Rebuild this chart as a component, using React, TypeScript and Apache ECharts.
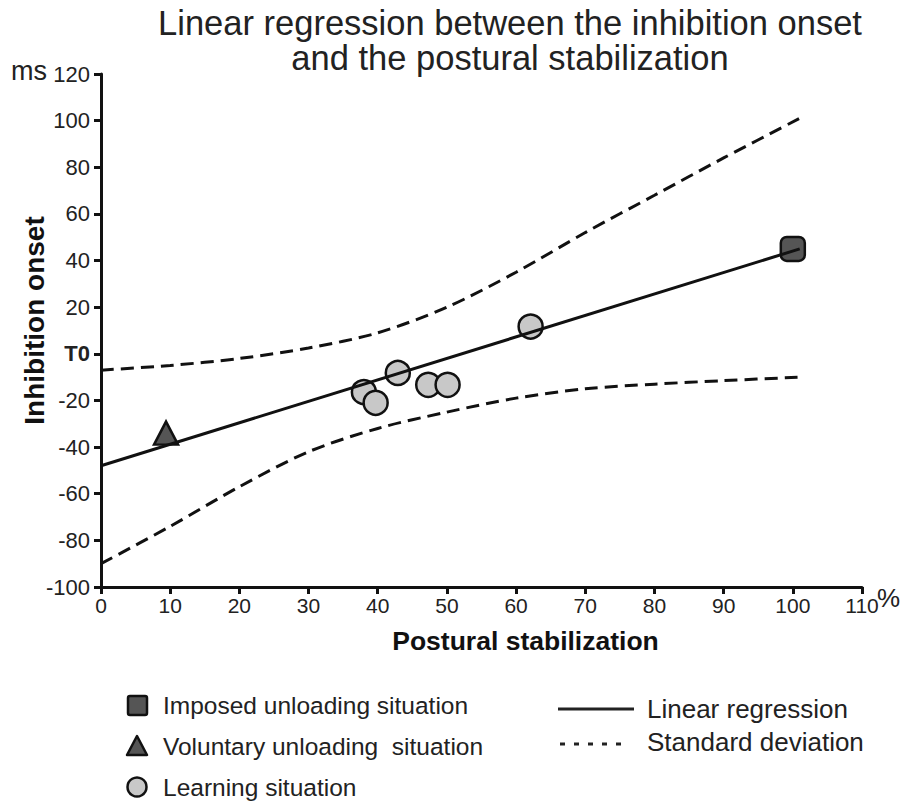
import React, { useEffect, useRef } from "react";
import * as echarts from "echarts";

// ---- data ----
const titleLines = ["Linear regression between the inhibition onset", "and the postural stabilization"];
const xName = "Postural stabilization";
const yName = "Inhibition onset";
const xUnit = "%";
const yUnit = "ms";

const imposedUnloading: number[][] = [[100, 45]];
const voluntaryUnloading: number[][] = [[9.4, -34]];
const learningSituation: number[][] = [
  [38, -16.4],
  [39.7, -21],
  [42.9, -8.2],
  [47.3, -13.3],
  [50.1, -13.3],
  [62.1, 11.7],
];
const linearRegression: number[][] = [
  [0, -48],
  [101, 45],
];
const sdUpper: number[][] = [
  [0, -7], [10, -5], [20, -2], [30, 2.5], [40, 9], [50, 20],
  [60, 35], [70, 52], [80, 68], [90, 84], [101, 101],
];
const sdLower: number[][] = [
  [0, -90], [10, -74], [20, -57], [30, -42], [40, -32], [50, -25],
  [60, -19], [70, -15], [80, -13], [90, -11.5], [101, -10],
];
const legendLeft = ["Imposed unloading situation", "Voluntary unloading  situation", "Learning situation"];
const legendRight = ["Linear regression", "Standard deviation"];

const FONT = "Liberation Sans";
const TXT = "#222";

export default function App() {
  const ref = useRef<HTMLDivElement>(null);
  useEffect(() => {
    if (!ref.current) return;
    const chart = echarts.init(ref.current, undefined, { renderer: "svg" });
    const option: any = {
      animation: false,
      backgroundColor: "#fff",
      textStyle: { fontFamily: FONT },
      title: {
        text: titleLines.join("\n"),
        left: 505,
        top: 0,
        textAlign: "center",
        textStyle: { fontFamily: FONT, fontSize: 34.5, fontWeight: "normal", color: TXT, lineHeight: 35 },
      },
      grid: { left: 101, right: 49, top: 74, bottom: 214, containLabel: false },
      xAxis: {
        type: "value",
        min: 0,
        max: 110,
        interval: 10,
        name: xName,
        nameLocation: "middle",
        nameGap: 40,
        nameMoveOverlap: false,
        nameTextStyle: { fontFamily: FONT, fontSize: 26.5, fontWeight: "bold", color: "#111", padding: [0, 0, 0, 88] },
        axisLine: { onZero: false, lineStyle: { color: "#111", width: 3 } },
        axisTick: { length: 7, lineStyle: { color: "#111", width: 3 } },
        axisLabel: { margin: 8, fontFamily: FONT, fontSize: 21, color: TXT },
        splitLine: { show: false },
      },
      yAxis: {
        type: "value",
        min: -100,
        max: 120,
        interval: 20,
        name: yName,
        nameLocation: "middle",
        nameGap: 53,
        nameMoveOverlap: false,
        nameRotate: 90,
        nameTextStyle: { fontFamily: FONT, fontSize: 28, fontWeight: "bold", color: "#111", padding: [0, 0, 0, 20] },
        axisLine: { onZero: false, lineStyle: { color: "#111", width: 3 } },
        axisTick: { length: 7, lineStyle: { color: "#111", width: 3 } },
        axisLabel: {
          margin: 11,
          fontFamily: FONT,
          fontSize: 22,
          color: TXT,
          formatter: (v: number) => (v === 0 ? "{b|T0}" : String(v)),
          rich: { b: { fontFamily: FONT, fontSize: 22, fontWeight: "bold", color: TXT } },
        },
        splitLine: { show: false },
      },
      series: [
        {
          name: legendLeft[2],
          type: "scatter",
          data: learningSituation,
          symbol: "circle",
          symbolSize: 24,
          itemStyle: { color: "#c8c8c8", borderColor: "#111", borderWidth: 2.5, opacity: 1 },
          z: 2,
        },
        {
          name: legendLeft[1],
          type: "scatter",
          data: voluntaryUnloading,
          symbol: "triangle",
          symbolSize: [24, 23],
          itemStyle: { color: "#555", borderColor: "#111", borderWidth: 2.5, opacity: 1 },
          z: 2,
        },
        {
          name: legendLeft[0],
          type: "scatter",
          data: imposedUnloading,
          symbol: "roundRect",
          symbolSize: 24,
          itemStyle: { color: "#555", borderColor: "#111", borderWidth: 2.5, opacity: 1 },
          z: 2,
        },
        {
          name: legendRight[0],
          type: "line",
          data: linearRegression,
          symbol: "none",
          lineStyle: { color: "#111", width: 3 },
          z: 3,
        },
        {
          name: legendRight[1],
          type: "line",
          data: sdUpper,
          symbol: "none",
          smooth: 0.3,
          lineStyle: { color: "#111", width: 3, type: [13, 7] },
          z: 3,
        },
        {
          name: legendRight[1] + " (lower)",
          type: "line",
          data: sdLower,
          symbol: "none",
          smooth: 0.3,
          lineStyle: { color: "#111", width: 3, type: [13, 7] },
          z: 3,
        },
      ],
      graphic: [
        { type: "text", left: 11, top: 57, style: { text: yUnit, fontFamily: FONT, fontSize: 27, fill: TXT } },
        { type: "text", left: 877, top: 585, style: { text: xUnit, fontFamily: FONT, fontSize: 26, fill: TXT } },
        // legend left
        { type: "rect", shape: { x: 128, y: 696, width: 19, height: 19, r: 2 }, style: { fill: "#555", stroke: "#111", lineWidth: 2.5 } },
        { type: "polygon", shape: { points: [[137, 736], [147, 755], [127, 755]] }, style: { fill: "#555", stroke: "#111", lineWidth: 2.5, lineJoin: "round" } },
        { type: "circle", shape: { cx: 137, cy: 787, r: 9.5 }, style: { fill: "#c8c8c8", stroke: "#111", lineWidth: 2.5 } },
        { type: "text", x: 163, y: 705, style: { text: legendLeft[0], fontFamily: FONT, fontSize: 24.5, fill: TXT, verticalAlign: "middle" } },
        { type: "text", x: 163, y: 746, style: { text: legendLeft[1], fontFamily: FONT, fontSize: 24.5, fill: TXT, verticalAlign: "middle" } },
        { type: "text", x: 163, y: 787, style: { text: legendLeft[2], fontFamily: FONT, fontSize: 24.5, fill: TXT, verticalAlign: "middle" } },
        // legend right
        { type: "line", shape: { x1: 558, y1: 709, x2: 634, y2: 709 }, style: { stroke: "#222", lineWidth: 3 } },
        { type: "line", shape: { x1: 560, y1: 744, x2: 630, y2: 744 }, style: { stroke: "#222", lineWidth: 3, lineDash: [5, 9] } },
        { type: "text", x: 647, y: 709, style: { text: legendRight[0], fontFamily: FONT, fontSize: 26, fill: TXT, verticalAlign: "middle" } },
        { type: "text", x: 647, y: 742, style: { text: legendRight[1], fontFamily: FONT, fontSize: 26, fill: TXT, verticalAlign: "middle" } },
      ],
    };
    chart.setOption(option);
    return () => chart.dispose();
  }, []);
  return (
    <div
      ref={ref}
      style={{ position: "absolute", left: 0, top: 0, width: 911, height: 801, background: "#fff" }}
    />
  );
}
